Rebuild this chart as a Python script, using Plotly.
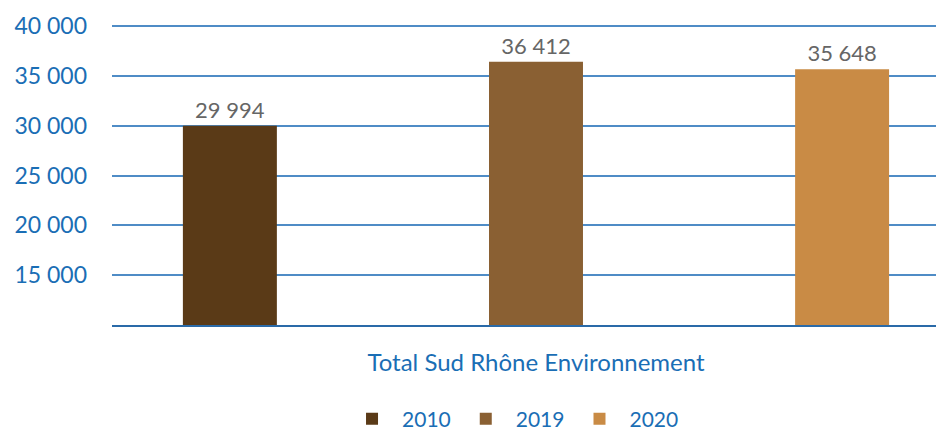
import plotly.graph_objects as go

category = ["Total Sud Rhône Environnement"]
years = ["2010", "2019", "2020"]
values = [29994, 36412, 35648]
colors = ["#5a3a17", "#8a6033", "#c98b45"]
y_ticks = [15000, 20000, 25000, 30000, 35000, 40000]

fig = go.Figure()
for yr, v, c in zip(years, values, colors):
    fig.add_trace(go.Bar(
        name=yr, x=category, y=[v], marker_color=c, marker_line_width=0,
        text=[v], texttemplate="%{y:,}", textposition="outside",
        textfont=dict(color="#666666", size=22, family="Lato"),
        cliponaxis=False,
    ))

fig.update_layout(
    width=936, height=426,
    margin=dict(l=104, r=0, t=15, b=109, autoexpand=False),
    paper_bgcolor="white", plot_bgcolor="white",
    barmode="group", bargap=0, bargroupgap=0.693,
    separators=", ",
    font=dict(family="Lato", color="#1a6eb5"),
    showlegend=True,
    legend=dict(orientation="h", x=0.482, xanchor="center", y=-0.312, yanchor="middle",
                font=dict(size=21, color="#1a6eb5"), itemwidth=50, traceorder="normal"),
    xaxis=dict(range=[-0.4617, 0.4443], showgrid=False, showline=True, linecolor="#2a6aa8",
               linewidth=2, tickfont=dict(size=24, color="#1a6eb5"), ticks="",
               ticklabelstandoff=15, automargin=False),
    yaxis=dict(range=[10000, 40300], tickvals=y_ticks, tickformat=",",
               showgrid=True, gridcolor="#4f8cc6", gridwidth=1.5, zeroline=False,
               tickfont=dict(size=23, color="#1a6eb5"), ticklabelstandoff=24, ticks="",
               automargin=False),
)
fig.write_html("out.html")
